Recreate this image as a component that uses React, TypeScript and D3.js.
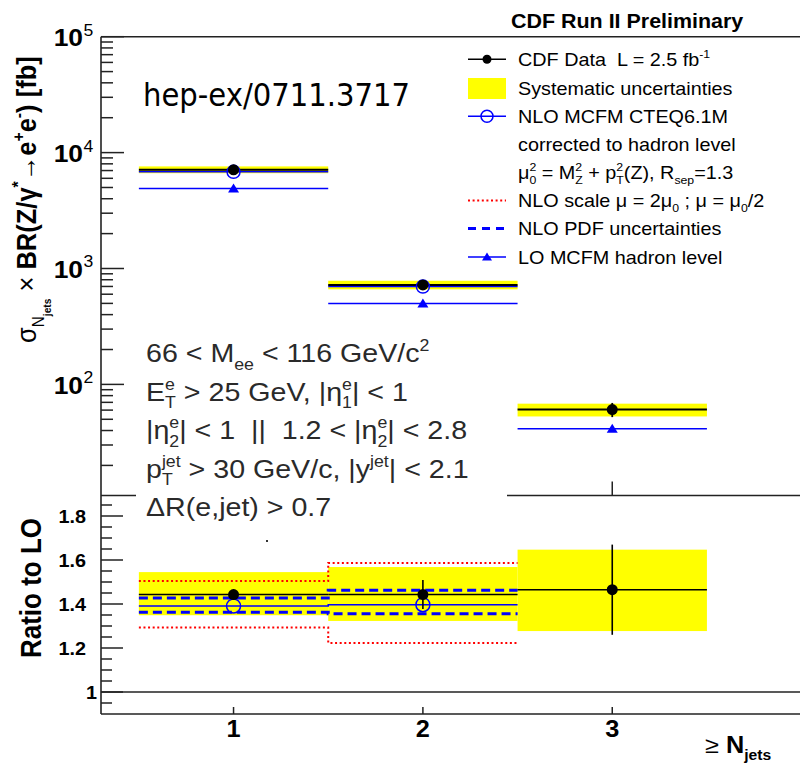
import React from 'react';
import * as d3 from 'd3';

// ---------------- data ----------------
const nJets = [1, 2, 3];
const binLow = [0.5, 1.5, 2.5];
const binHigh = [1.5, 2.5, 3.5];

// upper panel: sigma x BR [fb]
const dataXsec = [7100, 721, 60.7];
const dataStat = [70, 33, 8.5];
const sysLow = [6640, 661, 52.9];
const sysHigh = [7600, 784, 68.2];
const nloXsec = [6820, 698];
const loXsec = [4900, 500, 41.5];

// lower panel: ratio to LO
const ratioData = [1.443, 1.443, 1.465];
const ratioStat = [0.012, 0.066, 0.205];
const ratioSysLow = [1.349, 1.323, 1.277];
const ratioSysHigh = [1.545, 1.568, 1.647];
const ratioNlo = [1.391, 1.397];
const ratioPdfLow = [1.362, 1.356];
const ratioPdfHigh = [1.427, 1.462];
const ratioScaleLow = [1.293, 1.223];
const ratioScaleHigh = [1.505, 1.586];

const logExponents = [2, 3, 4, 5];
const ratioMajorTicks = [1.0, 1.2, 1.4, 1.6, 1.8];
const ratioTickLabels = ['1', '1.2', '1.4', '1.6', '1.8'];
const xTickLabels = ['1', '2', '3'];

// ---------------- layout ----------------
const FONT = "'Liberation Sans', Arial, Helvetica, sans-serif";
const SX = 1.1;
const LEFT = 101;
const RIGHT = 801.6;
const TOP_Y = 36.7;
const TOP_BOTTOM = 495.5;
const R_TOP = 494;
const R_BOTTOM = 714;
const AXIS = '#222';
const BLUE = '#0000ff';
const RED = '#ff0000';
const YELLOW = '#ffff00';

const x = d3.scaleLinear().domain([0.3, 4.0]).range([LEFT, RIGHT]);
const yTop = d3.scaleLog().domain([11, 1e5]).range([TOP_BOTTOM, TOP_Y]);
const yR = d3.scaleLinear().domain([0.9, 1.9]).range([R_BOTTOM, R_TOP]);

type Seg = { t: string; k?: 'sup' | 'sub' | 'sub2'; back?: number; w?: string; s?: number };

function Rich(props: {
  x: number; y: number; size: number; segs: Seg[]; weight?: string; anchor?: string;
  fill?: string; family?: string; rotate?: boolean;
}) {
  const { size, segs, weight = 'normal', anchor = 'start', fill = '#000', family = FONT } = props;
  let prev = 0;
  const tr = `translate(${props.x},${props.y}) scale(${SX},1)` + (props.rotate ? ' rotate(-90)' : '');
  return (
    <text transform={tr} fontSize={size} fontFamily={family} fontWeight={weight}
      textAnchor={anchor} fill={fill} style={{ whiteSpace: 'pre' }}>
      {segs.map((sg, i) => {
        let off = 0;
        let fs = sg.s ? sg.s * size : size;
        if (sg.k === 'sup') { off = -0.42 * size; fs = (sg.s || 0.62) * size; }
        if (sg.k === 'sub') { off = 0.3 * size; fs = (sg.s || 0.62) * size; }
        if (sg.k === 'sub2') { off = 0.55 * size; fs = (sg.s || 0.45) * size; }
        const dy = off - prev;
        prev = off;
        return (
          <tspan key={i} dy={dy} dx={sg.back ? -sg.back * size : undefined}
            fontSize={fs} fontWeight={sg.w}>{sg.t}</tspan>
        );
      })}
    </text>
  );
}

function triPath(cx: number, cy: number, w: number, h: number) {
  return `M${cx},${cy - h * 0.55} L${cx + w / 2},${cy + h * 0.45} L${cx - w / 2},${cy + h * 0.45} Z`;
}

function stepPath(vals: number[], yScale: (v: number) => number) {
  const pts: [number, number][] = [];
  vals.forEach((v, i) => {
    pts.push([x(binLow[i]), yScale(v)]);
    pts.push([x(binHigh[i]), yScale(v)]);
  });
  return d3.line()(pts) || '';
}

export default function App() {
  const logMinor: number[] = [];
  for (let k = 1; k <= 4; k++) {
    for (let m = 2; m <= 9; m++) {
      const v = m * Math.pow(10, k);
      if (v >= 11 && v < 1e5) logMinor.push(v);
    }
  }
  const ratioMinor: number[] = [];
  for (let i = 1; i < 20; i++) {
    const v = +(0.9 + i * 0.05).toFixed(2);
    if (v < 1.9 && !ratioMajorTicks.some(m => Math.abs(m - v) < 1e-6)) ratioMinor.push(v);
  }

  const legendX0 = 468, legendX1 = 506, legendMid = 487, legendText = 518;
  const legendBase = [65.7, 94.5, 122.7, 150.7, 178.5, 207, 235, 263.5];
  const legendFs = 18;

  const boxLines: Seg[][] = [
    [{ t: '66 < M' }, { t: 'ee', k: 'sub' }, { t: ' < 116 GeV/c' }, { t: '2', k: 'sup' }],
    [{ t: 'E' }, { t: 'e', k: 'sup' }, { t: 'T', k: 'sub', back: 0.345 }, { t: ' > 25 GeV, |η' },
      { t: 'e', k: 'sup' }, { t: '1', k: 'sub', back: 0.345 }, { t: '| < 1' }],
    [{ t: '|η' }, { t: 'e', k: 'sup' }, { t: '2', k: 'sub', back: 0.345 }, { t: '| < 1  ||  1.2 < |η' },
      { t: 'e', k: 'sup' }, { t: '2', k: 'sub', back: 0.345 }, { t: '| < 2.8' }],
    [{ t: 'p' }, { t: 'T', k: 'sub' }, { t: 'jet', k: 'sup', back: 0.379 }, { t: ' > 30 GeV/c, |y' },
      { t: 'jet', k: 'sup' }, { t: '| < 2.1' }],
    [{ t: 'ΔR(e,jet) > 0.7' }],
  ];
  const boxBase = [362, 400.5, 439, 477.5, 516];

  return (
    <svg width={800} height={765} style={{ position: 'absolute', left: 0, top: 0 }}
      xmlns="http://www.w3.org/2000/svg">
      <rect x={0} y={0} width={800} height={765} fill="#fff" />

      {/* ============ upper panel ============ */}
      {nJets.map((n, i) => (
        <rect key={'ys' + i} x={x(binLow[i])} width={x(binHigh[i]) - x(binLow[i])}
          y={yTop(sysHigh[i])} height={yTop(sysLow[i]) - yTop(sysHigh[i])} fill={YELLOW} />
      ))}
      {loXsec.map((v, i) => (
        <line key={'lo' + i} x1={x(binLow[i])} x2={x(binHigh[i])} y1={yTop(v)} y2={yTop(v)}
          stroke={BLUE} strokeWidth={1.5} />
      ))}
      {nloXsec.map((v, i) => (
        <line key={'nlo' + i} x1={x(binLow[i])} x2={x(binHigh[i])} y1={yTop(v)} y2={yTop(v)}
          stroke={BLUE} strokeWidth={1.5} />
      ))}
      {dataXsec.map((v, i) => (
        <g key={'d' + i}>
          <line x1={x(binLow[i])} x2={x(binHigh[i])} y1={yTop(v)} y2={yTop(v)} stroke="#000" strokeWidth={2} />
          <line x1={x(nJets[i])} x2={x(nJets[i])} y1={yTop(v + dataStat[i])} y2={yTop(v - dataStat[i])}
            stroke="#000" strokeWidth={1.8} />
        </g>
      ))}
      {loXsec.map((v, i) => (
        <path key={'lot' + i} d={triPath(x(nJets[i]), yTop(v), 11, 9)} fill={BLUE} />
      ))}
      {nloXsec.map((v, i) => (
        <circle key={'nloc' + i} cx={x(nJets[i])} cy={yTop(v)} r={6.5} fill="none" stroke={BLUE} strokeWidth={1.5} />
      ))}
      {dataXsec.map((v, i) => (
        <circle key={'dc' + i} cx={x(nJets[i])} cy={yTop(v)} r={5.5} fill="#000" />
      ))}

      {/* upper axes */}
      <line x1={LEFT} x2={RIGHT} y1={TOP_Y} y2={TOP_Y} stroke={AXIS} strokeWidth={1.6} />
      <line x1={LEFT} x2={RIGHT} y1={TOP_BOTTOM} y2={TOP_BOTTOM} stroke={AXIS} strokeWidth={1.6} />
      {nJets.map((n, i) => (
        <line key={'tt' + i} x1={x(n)} x2={x(n)} y1={TOP_BOTTOM} y2={TOP_BOTTOM - 14} stroke={AXIS} strokeWidth={1.5} />
      ))}
      {logExponents.map((e) => (
        <line key={'lM' + e} x1={LEFT} x2={LEFT + 23} y1={yTop(Math.pow(10, e))} y2={yTop(Math.pow(10, e))}
          stroke={AXIS} strokeWidth={1.5} />
      ))}
      {logMinor.map((v, i) => (
        <line key={'lm' + i} x1={LEFT} x2={LEFT + 12} y1={yTop(v)} y2={yTop(v)} stroke={AXIS} strokeWidth={1.5} />
      ))}
      {logExponents.map((e) => (
        <g key={'ll' + e}>
          <Rich x={83} y={yTop(Math.pow(10, e)) + 9.5} size={24} weight="bold" anchor="end" segs={[{ t: '10' }]} />
          <Rich x={83.5} y={yTop(Math.pow(10, e)) - 1} size={16} segs={[{ t: String(e) }]} />
        </g>
      ))}

      {/* ============ ratio panel ============ */}
      {nJets.map((n, i) => (
        <rect key={'rs' + i} x={x(binLow[i])} width={x(binHigh[i]) - x(binLow[i])}
          y={yR(ratioSysHigh[i])} height={yR(ratioSysLow[i]) - yR(ratioSysHigh[i])} fill={YELLOW} />
      ))}
      <path d={stepPath(ratioScaleHigh, yR)} fill="none" stroke={RED} strokeWidth={2} strokeDasharray="2 2.6" />
      <path d={stepPath(ratioScaleLow, yR)} fill="none" stroke={RED} strokeWidth={2} strokeDasharray="2 2.6" />
      <path d={stepPath(ratioPdfHigh, yR)} fill="none" stroke={BLUE} strokeWidth={3} strokeDasharray="9 5" />
      <path d={stepPath(ratioPdfLow, yR)} fill="none" stroke={BLUE} strokeWidth={3} strokeDasharray="9 5" />
      <path d={stepPath(ratioNlo, yR)} fill="none" stroke={BLUE} strokeWidth={1.5} />
      {ratioData.map((v, i) => (
        <g key={'rd' + i}>
          <line x1={x(binLow[i])} x2={x(binHigh[i])} y1={yR(v)} y2={yR(v)} stroke="#000" strokeWidth={1.6} />
          <line x1={x(nJets[i])} x2={x(nJets[i])} y1={yR(v + ratioStat[i])} y2={yR(v - ratioStat[i])}
            stroke="#000" strokeWidth={1.6} />
        </g>
      ))}
      {ratioNlo.map((v, i) => (
        <circle key={'rnc' + i} cx={x(nJets[i])} cy={yR(v)} r={7} fill="none" stroke={BLUE} strokeWidth={1.5} />
      ))}
      {ratioData.map((v, i) => (
        <circle key={'rdc' + i} cx={x(nJets[i])} cy={yR(v)} r={5.5} fill="#000" />
      ))}
      <line x1={LEFT} x2={RIGHT} y1={yR(1)} y2={yR(1)} stroke={AXIS} strokeWidth={1.6} />

      {/* ratio axes */}
      <line x1={LEFT} x2={RIGHT} y1={R_BOTTOM} y2={R_BOTTOM} stroke={AXIS} strokeWidth={1.6} />
      {nJets.map((n, i) => (
        <line key={'bt' + i} x1={x(n)} x2={x(n)} y1={R_BOTTOM} y2={R_BOTTOM - 7} stroke={AXIS} strokeWidth={1.5} />
      ))}
      {ratioMajorTicks.map((v) => (
        <line key={'rM' + v} x1={LEFT} x2={LEFT + 22} y1={yR(v)} y2={yR(v)} stroke={AXIS} strokeWidth={1.5} />
      ))}
      {ratioMinor.map((v) => (
        <line key={'rm' + v} x1={LEFT} x2={LEFT + 11} y1={yR(v)} y2={yR(v)} stroke={AXIS} strokeWidth={1.5} />
      ))}
      {ratioMajorTicks.map((v, i) => (
        <Rich key={'rl' + v} x={ratioTickLabels[i].length === 1 ? 97 : 86} y={yR(v) + 6.5} size={18}
          weight="bold" anchor="end" segs={[{ t: ratioTickLabels[i] }]} />
      ))}
      {nJets.map((n, i) => (
        <Rich key={'xl' + n} x={x(n)} y={737} size={23} weight="bold" anchor="middle" segs={[{ t: xTickLabels[i] }]} />
      ))}
      <line x1={LEFT} x2={LEFT} y1={TOP_Y} y2={R_BOTTOM} stroke={AXIS} strokeWidth={1.6} />

      {/* ============ cut text box ============ */}
      <rect x={136} y={328} width={371} height={206} fill="#fff" />
      {boxLines.map((segs, i) => (
        <Rich key={'bl' + i} x={146} y={boxBase[i]} size={26} fill="#2a2a2a" segs={segs} />
      ))}
      <rect x={266} y={540} width={2} height={2} fill="#333" />

      {/* ============ titles ============ */}
      <Rich x={36} y={343} size={25.5} rotate segs={[
        { t: 'σ' }, { t: 'N', k: 'sub', s: 0.6 }, { t: 'jets', k: 'sub2', s: 0.4, w: 'bold' },
        { t: ' × ' }, { t: 'BR(Z/γ', w: 'bold' }, { t: '*', k: 'sup', w: 'bold' },
        { t: '→e', w: 'bold' }, { t: '+', k: 'sup', w: 'bold' }, { t: 'e', w: 'bold' },
        { t: '-', k: 'sup', w: 'bold' }, { t: ') [fb]', w: 'bold' },
      ]} />
      <Rich x={41} y={588} size={26} weight="bold" anchor="middle" rotate segs={[{ t: 'Ratio to LO' }]} />
      <Rich x={705} y={753} size={23} segs={[
        { t: '≥ ' }, { t: 'N', w: 'bold' }, { t: 'jets', k: 'sub', s: 0.62, w: 'bold' },
      ]} />

      <Rich x={511} y={28.3} size={19.5} weight="bold" segs={[{ t: 'CDF Run II Preliminary' }]} />
      <text x={143} y={106} fontSize={32} fontFamily="'DejaVu Sans', sans-serif" textLength={267}
        lengthAdjust="spacingAndGlyphs" fill="#000">hep-ex/0711.3717</text>

      {/* ============ legend ============ */}
      <line x1={legendX0} x2={legendX1} y1={legendBase[0] - 6.5} y2={legendBase[0] - 6.5} stroke="#000" strokeWidth={1.5} />
      <circle cx={legendMid} cy={legendBase[0] - 6.5} r={4.5} fill="#000" />
      <rect x={legendX0} y={78} width={legendX1 - legendX0} height={21} fill={YELLOW} />
      <line x1={legendX0} x2={legendX1} y1={legendBase[2] - 6.5} y2={legendBase[2] - 6.5} stroke={BLUE} strokeWidth={1.5} />
      <circle cx={legendMid} cy={legendBase[2] - 6.5} r={6} fill="none" stroke={BLUE} strokeWidth={1.5} />
      <line x1={legendX0} x2={legendX1} y1={legendBase[5] - 6.5} y2={legendBase[5] - 6.5} stroke={RED} strokeWidth={2} strokeDasharray="2 2.6" />
      <line x1={legendX0} x2={legendX1} y1={legendBase[6] - 6.5} y2={legendBase[6] - 6.5} stroke={BLUE} strokeWidth={3} strokeDasharray="8 6" />
      <line x1={legendX0} x2={legendX1} y1={legendBase[7] - 6.5} y2={legendBase[7] - 6.5} stroke={BLUE} strokeWidth={1.5} />
      <path d={triPath(legendMid, legendBase[7] - 6.5, 10, 8)} fill={BLUE} />

      <Rich x={legendText} y={legendBase[0]} size={legendFs} segs={[{ t: 'CDF Data  L = 2.5 fb' }, { t: '-1', k: 'sup' }]} />
      <Rich x={legendText} y={legendBase[1]} size={legendFs} segs={[{ t: 'Systematic uncertainties' }]} />
      <Rich x={legendText} y={legendBase[2]} size={legendFs} segs={[{ t: 'NLO MCFM CTEQ6.1M' }]} />
      <Rich x={legendText} y={legendBase[3]} size={legendFs} segs={[{ t: 'corrected to hadron level' }]} />
      <Rich x={legendText} y={legendBase[4]} size={legendFs} segs={[
        { t: 'μ' }, { t: '2', k: 'sup' }, { t: '0', k: 'sub', back: 0.345 }, { t: ' = M' },
        { t: '2', k: 'sup' }, { t: 'Z', k: 'sub', back: 0.345 }, { t: ' + p' },
        { t: '2', k: 'sup' }, { t: 'T', k: 'sub', back: 0.345 }, { t: '(Z), R' },
        { t: 'sep', k: 'sub' }, { t: '=1.3' },
      ]} />
      <Rich x={legendText} y={legendBase[5]} size={legendFs} segs={[
        { t: 'NLO scale μ = 2μ' }, { t: '0', k: 'sub' }, { t: ' ; μ = μ' }, { t: '0', k: 'sub' }, { t: '/2' },
      ]} />
      <Rich x={legendText} y={legendBase[6]} size={legendFs} segs={[{ t: 'NLO PDF uncertainties' }]} />
      <Rich x={legendText} y={legendBase[7]} size={legendFs} segs={[{ t: 'LO MCFM hadron level' }]} />
    </svg>
  );
}
